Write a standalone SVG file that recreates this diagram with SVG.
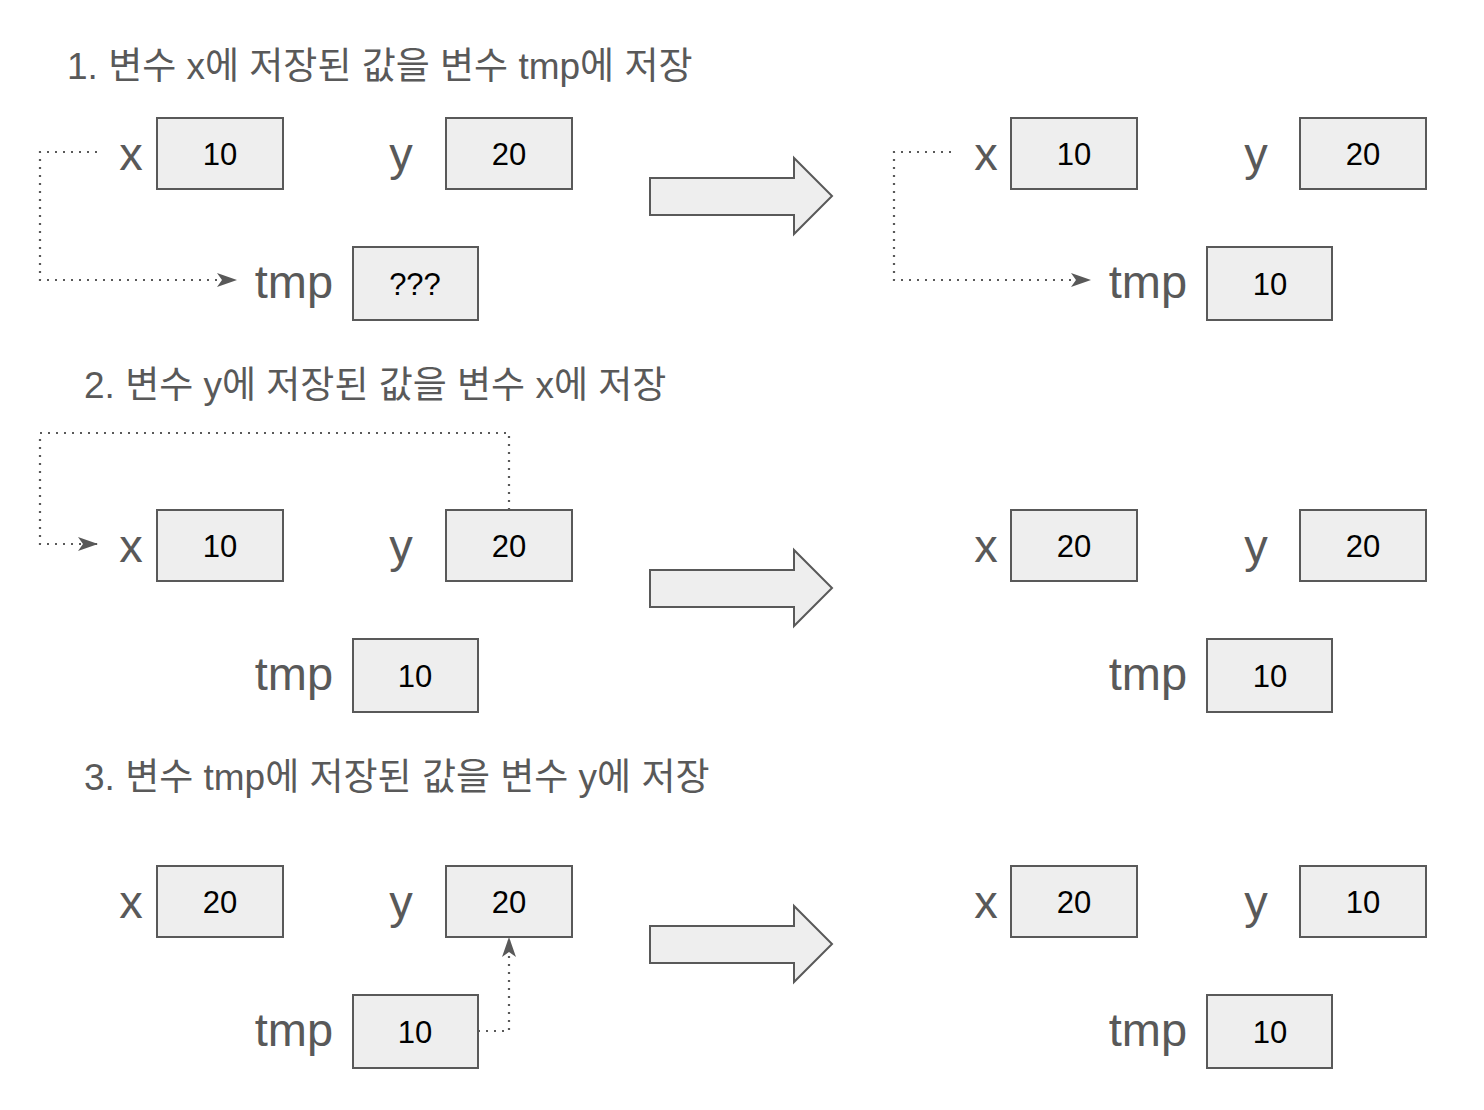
<svg xmlns="http://www.w3.org/2000/svg" width="1484" height="1110" viewBox="0 0 1484 1110">
<defs>
<style>
.box{fill:#eeeeee;stroke:#595959;stroke-width:2}
.val{font-family:"Liberation Sans",Arial,sans-serif;font-size:31px;fill:#000;text-anchor:middle}
.lbl{font-family:"Liberation Sans",Arial,sans-serif;font-size:47px;fill:#595959;text-anchor:middle}
.title{font-family:"Liberation Sans","Noto Sans CJK KR",sans-serif;font-size:37px;fill:#595959}
.big{fill:#eeeeee;stroke:#595959;stroke-width:2;stroke-linejoin:miter}
.dot{fill:none;stroke:#595959;stroke-width:2.2;stroke-dasharray:2 6}
</style>
<marker id="ah" viewBox="0 0 20 14" refX="19" refY="7" markerWidth="20" markerHeight="14" markerUnits="userSpaceOnUse" orient="auto">
<path d="M0,0 L20,7 L0,14 L5,7 Z" fill="#595959"/>
</marker>
</defs>
<rect width="1484" height="1110" fill="#ffffff"/>

<g id="titles">
<text class="title" x="67" y="79">1. 변수 x에 저장된 값을 변수 tmp에 저장</text>
<text class="title" x="84" y="398">2. 변수 y에 저장된 값을 변수 x에 저장</text>
<text class="title" x="84" y="790">3. 변수 tmp에 저장된 값을 변수 y에 저장</text>
</g>

<g id="connectors">
<polyline class="dot" points="97,152 40,152 40,280 236,280" marker-end="url(#ah)"/>
<polyline class="dot" points="951,152 894,152 894,280 1090,280" marker-end="url(#ah)"/>
<polyline class="dot" points="509,510 509,433 40,433 40,544 97,544" marker-end="url(#ah)"/>
<polyline class="dot" points="478,1031 509,1031 509,938" marker-end="url(#ah)"/>
</g>

<g id="arrows">
<polygon id="arrow1" class="big" points="650,178 794,178 794,158 832,196 794,234 794,215 650,215"/>
<polygon id="arrow2" class="big" points="650,570 794,570 794,550 832,588 794,626 794,607 650,607"/>
<polygon id="arrow3" class="big" points="650,926 794,926 794,906 832,944 794,982 794,963 650,963"/>
</g>

<!-- Row 1 left -->
<g id="r1l-x"><text class="lbl" x="131" y="170">x</text><rect class="box" x="157" y="118" width="126" height="71"/><text class="val" x="220" y="165">10</text></g>
<g id="r1l-y"><text class="lbl" x="401" y="170">y</text><rect class="box" x="446" y="118" width="126" height="71"/><text class="val" x="509" y="165">20</text></g>
<g id="r1l-tmp"><text class="lbl" x="294" y="298">tmp</text><rect class="box" x="353" y="247" width="125" height="73"/><text class="val" x="415" y="295">???</text></g>
<!-- Row 1 right -->
<g id="r1r-x"><text class="lbl" x="986" y="170">x</text><rect class="box" x="1011" y="118" width="126" height="71"/><text class="val" x="1074" y="165">10</text></g>
<g id="r1r-y"><text class="lbl" x="1256" y="170">y</text><rect class="box" x="1300" y="118" width="126" height="71"/><text class="val" x="1363" y="165">20</text></g>
<g id="r1r-tmp"><text class="lbl" x="1148" y="298">tmp</text><rect class="box" x="1207" y="247" width="125" height="73"/><text class="val" x="1270" y="295">10</text></g>

<!-- Row 2 left -->
<g id="r2l-x"><text class="lbl" x="131" y="562">x</text><rect class="box" x="157" y="510" width="126" height="71"/><text class="val" x="220" y="557">10</text></g>
<g id="r2l-y"><text class="lbl" x="401" y="562">y</text><rect class="box" x="446" y="510" width="126" height="71"/><text class="val" x="509" y="557">20</text></g>
<g id="r2l-tmp"><text class="lbl" x="294" y="690">tmp</text><rect class="box" x="353" y="639" width="125" height="73"/><text class="val" x="415" y="687">10</text></g>
<!-- Row 2 right -->
<g id="r2r-x"><text class="lbl" x="986" y="562">x</text><rect class="box" x="1011" y="510" width="126" height="71"/><text class="val" x="1074" y="557">20</text></g>
<g id="r2r-y"><text class="lbl" x="1256" y="562">y</text><rect class="box" x="1300" y="510" width="126" height="71"/><text class="val" x="1363" y="557">20</text></g>
<g id="r2r-tmp"><text class="lbl" x="1148" y="690">tmp</text><rect class="box" x="1207" y="639" width="125" height="73"/><text class="val" x="1270" y="687">10</text></g>

<!-- Row 3 left -->
<g id="r3l-x"><text class="lbl" x="131" y="918">x</text><rect class="box" x="157" y="866" width="126" height="71"/><text class="val" x="220" y="913">20</text></g>
<g id="r3l-y"><text class="lbl" x="401" y="918">y</text><rect class="box" x="446" y="866" width="126" height="71"/><text class="val" x="509" y="913">20</text></g>
<g id="r3l-tmp"><text class="lbl" x="294" y="1046">tmp</text><rect class="box" x="353" y="995" width="125" height="73"/><text class="val" x="415" y="1043">10</text></g>
<!-- Row 3 right -->
<g id="r3r-x"><text class="lbl" x="986" y="918">x</text><rect class="box" x="1011" y="866" width="126" height="71"/><text class="val" x="1074" y="913">20</text></g>
<g id="r3r-y"><text class="lbl" x="1256" y="918">y</text><rect class="box" x="1300" y="866" width="126" height="71"/><text class="val" x="1363" y="913">10</text></g>
<g id="r3r-tmp"><text class="lbl" x="1148" y="1046">tmp</text><rect class="box" x="1207" y="995" width="125" height="73"/><text class="val" x="1270" y="1043">10</text></g>
</svg>
